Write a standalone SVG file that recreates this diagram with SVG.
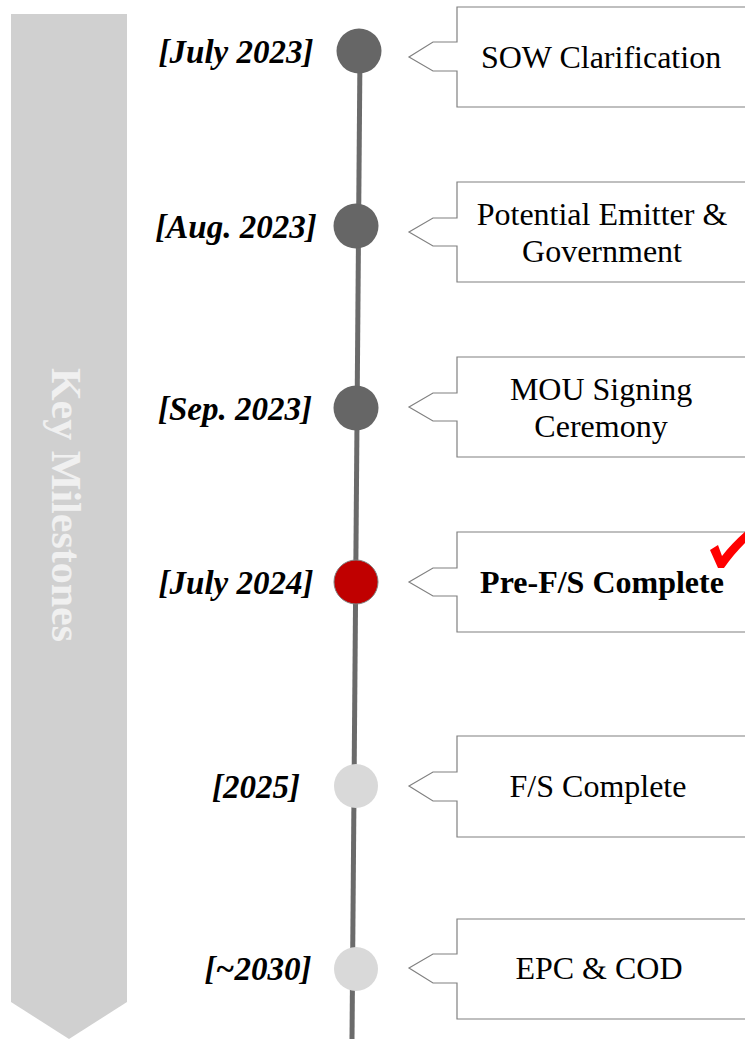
<svg xmlns="http://www.w3.org/2000/svg" width="745" height="1039" viewBox="0 0 745 1039">
  <style>
    .date { font-family: "Liberation Serif", "Times New Roman", serif; font-size: 33px; font-weight: bold; font-style: italic; fill: #000; text-anchor: middle; }
    .label { font-family: "Liberation Serif", "Times New Roman", serif; font-size: 32px; fill: #000; text-anchor: middle; }
    .callout { fill: #fff; stroke: #808080; stroke-width: 1.2; }
    .done { fill: #666666; }
    .todo { fill: #d9d9d9; }
    .now { fill: #c00000; stroke: #7f7f7f; stroke-width: 1; }
  </style>
  <rect width="745" height="1039" fill="#fff"/>

  <!-- side banner -->
  <g id="banner">
    <polygon points="11,14 127,14 127,1002 69,1039 11,1002" fill="#d0d0d0"/>
    <text transform="translate(52,505) rotate(90)" text-anchor="middle" font-family="'Liberation Serif', 'Times New Roman', serif" font-size="42" font-weight="bold" fill="#f0f0f0">Key Milestones</text>
  </g>

  <!-- timeline spine -->
  <g id="connectors">
    <line x1="360" y1="51" x2="352" y2="1039" stroke="#6b6b6b" stroke-width="5"/>
  </g>

  <g id="m1">
    <circle class="done" cx="359" cy="51" r="22.5"/>
    <text class="date" x="236" y="63">[July 2023]</text>
    <path class="callout" d="M750,7 H457 V42 H433 L409,57 L433,71 H457 V107 H750"/>
    <text class="label" x="601" y="68">SOW Clarification</text>
  </g>

  <g id="m2">
    <circle class="done" cx="356" cy="226" r="22.5"/>
    <text class="date" x="236" y="238">[Aug. 2023]</text>
    <path class="callout" d="M750,182 H457 V218 H433 L409,232 L433,246 H457 V282 H750"/>
    <text class="label" x="602" y="225">Potential Emitter &amp;</text>
    <text class="label" x="602" y="262">Government</text>
  </g>

  <g id="m3">
    <circle class="done" cx="356" cy="408" r="22.5"/>
    <text class="date" x="235" y="420">[Sep. 2023]</text>
    <path class="callout" d="M750,357 H457 V393 H433 L409,407 L433,421 H457 V457 H750"/>
    <text class="label" x="601" y="400">MOU Signing</text>
    <text class="label" x="601" y="437">Ceremony</text>
  </g>

  <g id="m4">
    <circle class="now" cx="356" cy="582" r="22"/>
    <text class="date" x="236" y="594">[July 2024]</text>
    <path class="callout" d="M750,532 H457 V568 H433 L409,582 L433,596 H457 V632 H750"/>
    <text class="label" x="602" y="593" font-weight="bold">Pre-F/S Complete</text>
    <path d="M710,550 L718,545 L722,556 C729,547 737,539 747,530 L747,541 C739,549 731,558 724,568 L718,568 Z" fill="#ff0000"/>
  </g>

  <g id="m5">
    <circle class="todo" cx="356" cy="786" r="22"/>
    <text class="date" x="256" y="798">[2025]</text>
    <path class="callout" d="M750,736 H457 V772 H433 L409,786 L433,801 H457 V837 H750"/>
    <text class="label" x="598" y="797">F/S Complete</text>
  </g>

  <g id="m6">
    <circle class="todo" cx="356" cy="969" r="22"/>
    <text class="date" x="258" y="980">[~2030]</text>
    <path class="callout" d="M750,919 H457 V954 H433 L409,968 L433,983 H457 V1019 H750"/>
    <text class="label" x="599" y="979">EPC &amp; COD</text>
  </g>
</svg>
